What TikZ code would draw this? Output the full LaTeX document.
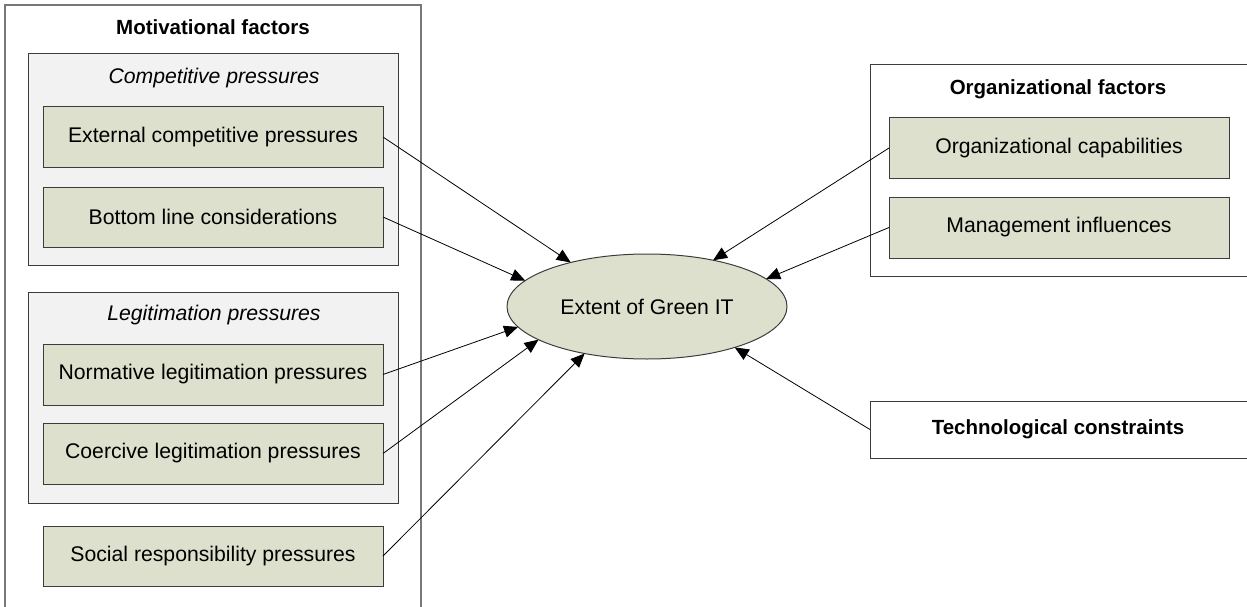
\documentclass[tikz,border=0pt]{standalone}
\usepackage{fontspec}
\setmainfont{Liberation Sans}
\usetikzlibrary{arrows.meta,shapes.geometric}
\definecolor{boxgreen}{RGB}{221,224,204}
\definecolor{groupgrey}{RGB}{242,242,242}
\definecolor{edgedark}{RGB}{60,60,60}
\definecolor{edgegrey}{RGB}{120,120,120}
\tikzset{
  factor/.style={draw=edgedark, line width=1pt, fill=boxgreen, minimum width=340pt,
    minimum height=60pt, inner sep=0pt, outer sep=0pt, font=\fontsize{21.2}{25}\selectfont},
  group/.style={draw=edgedark, line width=1pt, fill=groupgrey, inner sep=0pt, outer sep=0pt},
  panel/.style={draw=edgegrey, line width=1.3pt, fill=white, inner sep=0pt, outer sep=0pt},
  heading/.style={font=\fontsize{20.5}{24}\selectfont\bfseries, inner sep=0pt},
  subheading/.style={font=\fontsize{21.2}{25}\selectfont\itshape, inner sep=0pt},
  arr/.style={draw=black, line width=0.8pt, -{Triangle[length=14pt,width=12pt]}}
}
\begin{document}
\begin{tikzpicture}[x=1pt,y=-1pt]
\useasboundingbox (0,0) rectangle (1247,607);
\clip (0,0) rectangle (1247,607);

% motivational factors panel
\node[panel, anchor=north west, minimum width=416pt, minimum height=640pt] (mot) at (5,5) {};
\node[heading] (motT) at (213,27) {Motivational factors};

% competitive pressures
\node[group, anchor=north west, minimum width=370pt, minimum height=211pt] (comp) at (28,54) {};
\node[subheading] (compT) at (214,78) {Competitive pressures};
\node[factor] (ext) at (213,137) {External competitive pressures};
\node[factor] (bot) at (213,217) {Bottom line considerations};

% legitimation pressures
\node[group, anchor=north west, minimum width=370pt, minimum height=211pt] (legit) at (28,292) {};
\node[subheading] (legitT) at (214,315) {Legitimation pressures};
\node[factor, minimum height=61pt] (norm) at (213,374.5) {Normative legitimation pressures};
\node[factor, minimum height=61pt] (coer) at (213,453.5) {Coercive legitimation pressures};

\node[factor] (soc) at (213,556) {Social responsibility pressures};

% organizational factors
\node[panel, draw=edgedark, line width=1pt, anchor=north west, minimum width=400pt, minimum height=211pt] (org) at (870,65) {};
\node[heading] (orgT) at (1058,89) {Organizational factors};
\node[factor] (cap) at (1059,148) {Organizational capabilities};
\node[factor, minimum height=61pt] (mgmt) at (1059,227.5) {Management influences};

% technological constraints
\node[panel, draw=edgedark, line width=1pt, anchor=north west, minimum width=400pt, minimum height=57pt] (tech) at (870,401) {};
\node[heading] (techT) at (1058,429.5) {Technological constraints};

% outcome
\node[ellipse, draw=edgedark, line width=1pt, fill=boxgreen, minimum width=280pt, minimum height=105pt,
  inner sep=0pt, outer sep=0pt, font=\fontsize{21.2}{25}\selectfont] (green) at (647,306.5) {Extent of Green IT};

% influences on the outcome
\draw[arr] (ext.east) -- (green.150);
\draw[arr] (bot.east) -- (green.168.7);
\draw[arr] (norm.east) -- (green.189.5);
\draw[arr] (coer.east) -- (green.197.6);
\draw[arr] (soc.east) -- (green.217.6);
\draw[arr] (cap.west) -- (green.35.7);
\draw[arr] (mgmt.west) -- (green.13.6);
\draw[arr] (tech.west) -- (green.335.8);
\end{tikzpicture}
\end{document}
